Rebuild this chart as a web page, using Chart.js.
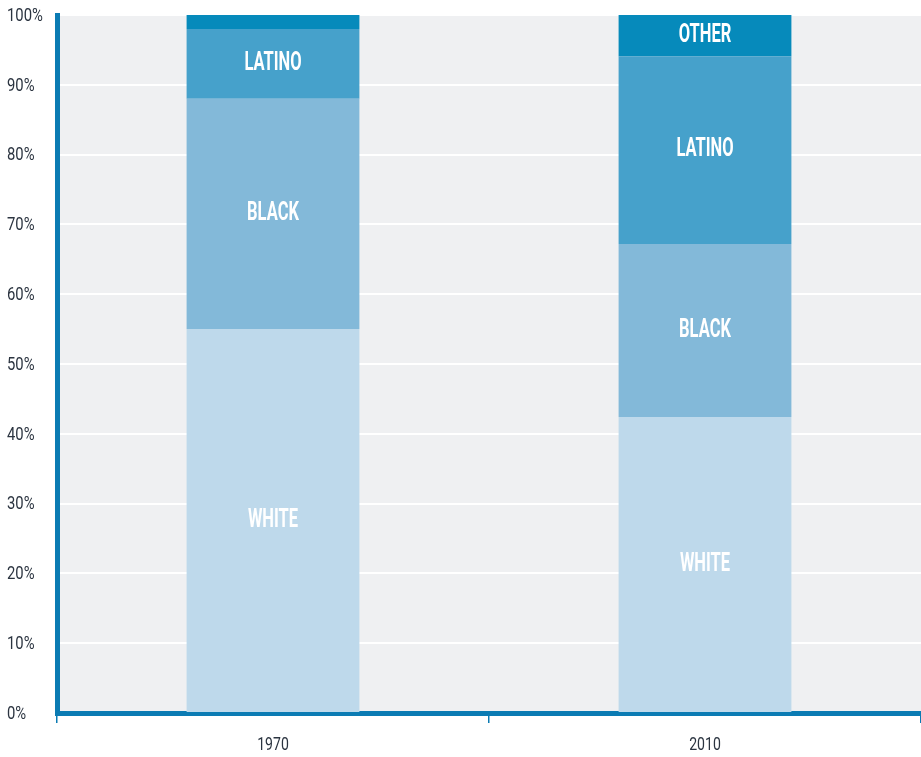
<!DOCTYPE html>
<html>
<head>
<meta charset="utf-8">
<script src="https://cdn.jsdelivr.net/npm/chart.js@4.4.1/dist/chart.umd.min.js"></script>
<style>
  html, body { margin: 0; padding: 0; background: #fff; }
  #wrap { width: 921px; height: 757px; }
</style>
</head>
<body>
<div id="wrap"><canvas id="chart"></canvas></div>
<script>
// data (share of population, %)
const years = ["1970", "2010"];
const groups = ["White", "Black", "Latino", "Other"];
const white = [55, 42.4];
const black = [33, 24.8];
const latino = [10, 26.9];
const other = [2, 5.9];

const colors = ["#bed9eb", "#83b9d9", "#46a1cb", "#068abb"];
const axisBlue = "#0b7bb3";
const tickColor = "#2b3440";

const series = [white, black, latino, other];

// no condensed font installed, so squeeze text horizontally
function narrowText(ctx, text, x, y, font, sx, align) {
  ctx.save();
  ctx.font = font;
  ctx.textBaseline = "middle";
  ctx.textAlign = align;
  ctx.translate(x, y);
  ctx.scale(sx, 1);
  ctx.fillText(text, 0, 0);
  ctx.restore();
}

// grey plot background
const plotBg = {
  id: "plotBg",
  beforeDraw(chart) {
    const { ctx, chartArea: a } = chart;
    ctx.save();
    ctx.fillStyle = "#eff0f2";
    ctx.fillRect(a.left, a.top, a.right - a.left, a.bottom - a.top);
    ctx.restore();
  }
};

// axis tick labels
const tickText = {
  id: "tickText",
  afterDraw(chart) {
    const { ctx, scales } = chart;
    ctx.fillStyle = tickColor;
    scales.y.ticks.forEach(t => {
      const y = scales.y.getPixelForValue(t.value);
      narrowText(ctx, t.value + "%", 7, y + 1, "19px Roboto", 0.78, "left");
    });
    years.forEach((yr, i) => {
      const x = scales.x.getPixelForValue(i);
      narrowText(ctx, yr, x, 745, "19px Roboto", 0.74, "center");
    });
  }
};

// white caps inside each segment
const segLabels = {
  id: "segLabels",
  afterDatasetsDraw(chart) {
    const { ctx } = chart;
    ctx.fillStyle = "#fff";
    chart.data.datasets.forEach((ds, i) => {
      chart.getDatasetMeta(i).data.forEach(bar => {
        const h = Math.abs(bar.base - bar.y);
        if (h < 28) return;
        narrowText(ctx, ds.label.toUpperCase(), bar.x, (bar.y + bar.base) / 2,
          "bold 25px Roboto", 0.66, "center");
      });
    });
  }
};

new Chart(document.getElementById("chart"), {
  type: "bar",
  data: {
    labels: years,
    datasets: series.map((vals, i) => ({
      label: groups[i],
      data: vals,
      backgroundColor: colors[i],
      borderWidth: 0,
      barPercentage: 0.4,
      categoryPercentage: 1
    }))
  },
  options: {
    responsive: true,
    maintainAspectRatio: false,
    animation: false,
    layout: { padding: { top: 15, right: 0, left: 0, bottom: 0 } },
    plugins: {
      legend: { display: false },
      tooltip: { enabled: false }
    },
    scales: {
      x: {
        stacked: true,
        border: { color: axisBlue, width: 5 },
        grid: {
          offset: true,
          drawOnChartArea: false,
          tickColor: axisBlue,
          tickLength: 10,
          lineWidth: 1.5
        },
        ticks: { display: false },
        afterFit(scale) { scale.height = 44; }
      },
      y: {
        stacked: true,
        min: 0,
        max: 100,
        border: { color: axisBlue, width: 5 },
        grid: {
          color: "#ffffff",
          lineWidth: 2,
          drawTicks: false
        },
        ticks: { stepSize: 10, display: false },
        afterFit(scale) { scale.width = 57; }
      }
    }
  },
  plugins: [plotBg, segLabels, tickText]
});
</script>
</body>
</html>
